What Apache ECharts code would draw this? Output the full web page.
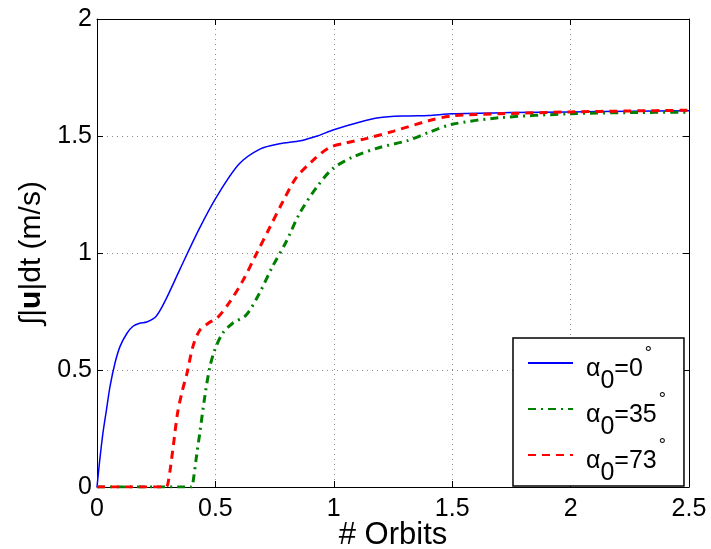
<!DOCTYPE html>
<html>
<head>
<meta charset="utf-8">
<script src="https://cdn.jsdelivr.net/npm/echarts@6/dist/echarts.min.js"></script>
<style>html,body{margin:0;padding:0;background:#fff;}#c{width:711px;height:549px;}</style>
</head>
<body>
<div id="c"></div>
<script>
// Series data (x in orbits, y in m/s)
var xBlue = [0,0.01,0.025,0.04,0.055,0.076,0.097,0.126,0.152,0.18,0.21,0.25,0.29,0.35,0.43,0.505,0.60,0.69,0.77,0.86,0.93,1.0,1.10,1.19,1.31,1.40,1.50,1.75,2.0,2.25,2.5];
var yBlue = [0,0.1,0.23,0.33,0.43,0.53,0.60,0.656,0.687,0.70,0.705,0.73,0.80,0.93,1.10,1.24,1.38,1.445,1.467,1.48,1.50,1.527,1.557,1.578,1.586,1.588,1.595,1.600,1.603,1.606,1.608];

var xGreen = [0,0.40,0.405,0.42,0.434,0.455,0.476,0.497,0.53,0.573,0.63,0.687,0.74,0.80,0.856,0.927,0.995,1.08,1.19,1.31,1.40,1.50,1.70,2.0,2.25,2.5];
var yGreen = [0,0,0.017,0.13,0.23,0.385,0.51,0.585,0.656,0.70,0.735,0.83,0.94,1.05,1.17,1.28,1.36,1.41,1.45,1.48,1.515,1.55,1.578,1.595,1.600,1.602];

var xRed = [0,0.29,0.30,0.32,0.34,0.36,0.38,0.405,0.434,0.47,0.51,0.56,0.615,0.675,0.73,0.785,0.84,0.91,0.98,1.05,1.14,1.25,1.40,1.50,1.70,2.0,2.25,2.5];
var yRed = [0,0,0.017,0.158,0.315,0.41,0.486,0.60,0.67,0.70,0.725,0.79,0.88,1.0,1.11,1.22,1.32,1.394,1.45,1.47,1.49,1.52,1.565,1.586,1.595,1.603,1.607,1.61];

var alphaVals = ['0', '35', '73'];
var seriesNames = ['α0=0°', 'α0=35°', 'α0=73°'];
var xTicks = ['0', '0.5', '1', '1.5', '2', '2.5'];
var yTicks = ['0', '0.5', '1', '1.5', '2'];

function pairs(xs, ys) { return xs.map(function (x, i) { return [x, ys[i]]; }); }

var FONT = '"Liberation Sans", Arial, Helvetica, sans-serif';

var chart = echarts.init(document.getElementById('c'), null, {renderer: 'canvas'});

var gridLine = {show: true, lineStyle: {color: '#8a8a8a', width: 1, type: [1, 4]}};

var option = {
  backgroundColor: '#fff',
  animation: false,
  grid: {left: 97, right: 22, top: 19, bottom: 62, show: false, containLabel: false, outerBoundsMode: 'none'},
  xAxis: [{
    type: 'value', min: 0, max: 2.5, interval: 0.5, position: 'bottom',
    axisLine: {show: true, onZero: false, lineStyle: {color: '#000', width: 1}},
    axisTick: {show: true, inside: true, length: 6, lineStyle: {color: '#000'}},
    axisLabel: {color: '#000', fontSize: 25, fontFamily: FONT, margin: 10,
      formatter: function (v) { return xTicks[Math.round(v / 0.5)]; }},
    splitLine: gridLine,
    name: '# Orbits', nameLocation: 'middle', nameGap: 33, nameMoveOverlap: false,
    nameTextStyle: {color: '#000', fontSize: 31, fontFamily: FONT}
  }, {
    type: 'value', min: 0, max: 2.5, interval: 0.5, position: 'top',
    axisLine: {show: true, onZero: false, lineStyle: {color: '#000', width: 1}},
    axisTick: {show: true, inside: true, length: 6, lineStyle: {color: '#000'}},
    axisLabel: {show: false}, splitLine: {show: false}
  }],
  yAxis: [{
    type: 'value', min: 0, max: 2, interval: 0.5, position: 'left',
    axisLine: {show: true, onZero: false, lineStyle: {color: '#000', width: 1}},
    axisTick: {show: true, inside: true, length: 6, lineStyle: {color: '#000'}},
    axisLabel: {color: '#000', fontSize: 25, fontFamily: FONT, margin: 5,
      formatter: function (v) { return yTicks[Math.round(v / 0.5)]; }},
    splitLine: gridLine,
    name: '{n|∫|}{b|u}{n||dt (m/s)}', nameLocation: 'middle', nameGap: 50, nameRotate: 90,
    nameTextStyle: {color: '#000', fontSize: 30, fontFamily: FONT,
      rich: {n: {fontSize: 30, fontFamily: FONT, color: '#000'},
             b: {fontSize: 30, fontFamily: FONT, fontWeight: 'bold', color: '#000'}}}
  }, {
    type: 'value', min: 0, max: 2, interval: 0.5, position: 'right',
    axisLine: {show: true, onZero: false, lineStyle: {color: '#000', width: 1}},
    axisTick: {show: true, inside: true, length: 6, lineStyle: {color: '#000'}},
    axisLabel: {show: false}, splitLine: {show: false}
  }],
  legend: {
    orient: 'vertical', left: 513, top: 338,
    backgroundColor: '#fff', borderColor: '#000', borderWidth: 1.5, borderRadius: 0,
    padding: [3, 18, 0, 14], itemGap: -7, itemWidth: 45, itemHeight: 14,
    itemStyle: {opacity: 0},
    data: seriesNames,
    formatter: function (name) {
      var v = alphaVals[seriesNames.indexOf(name)];
      return '{p| }{a|α}{s|0}{a|=' + v + '}{d|°}';
    },
    textStyle: {
      color: '#000', fontFamily: FONT,
      rich: {
        p: {width: 8, fontSize: 10, lineHeight: 44, verticalAlign: 'top'},
        a: {fontSize: 25, fontFamily: FONT, color: '#000', lineHeight: 20, padding: [16, 0, 0, 0], verticalAlign: 'top'},
        s: {fontSize: 25, fontFamily: FONT, color: '#000', lineHeight: 20, padding: [28, 0, 0, 0], verticalAlign: 'top'},
        d: {fontSize: 18, fontFamily: FONT, color: '#000', lineHeight: 14, padding: [4, 0, 0, 2], verticalAlign: 'top'}
      }
    }
  },
  series: [{
    name: seriesNames[0], type: 'line', data: pairs(xBlue, yBlue),
    showSymbol: false, symbol: 'none', smooth: 0.3,
    lineStyle: {color: '#0000ff', width: 1.5, type: 'solid'},
    itemStyle: {color: '#0000ff'}
  }, {
    name: seriesNames[1], type: 'line', data: pairs(xGreen, yGreen),
    showSymbol: false, symbol: 'none', smooth: 0.3,
    lineStyle: {color: '#008000', width: 3, type: [8, 5, 2, 5], cap: 'butt'},
    itemStyle: {color: '#008000'}
  }, {
    name: seriesNames[2], type: 'line', data: pairs(xRed, yRed),
    showSymbol: false, symbol: 'none', smooth: 0.3,
    lineStyle: {color: '#ff0000', width: 3, type: [8, 6], cap: 'butt'},
    itemStyle: {color: '#ff0000'}
  }]
};
chart.setOption(option);
</script>
</body>
</html>
